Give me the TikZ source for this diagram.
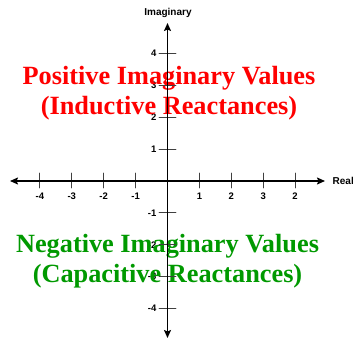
\documentclass[tikz,border=0pt]{standalone}
\usepackage{fontspec}
\setmainfont{Liberation Serif}
\setsansfont{Liberation Sans}
\usetikzlibrary{arrows.meta}
\definecolor{posred}{RGB}{255,0,0}
\definecolor{neggreen}{RGB}{0,153,0}

\begin{document}
\begin{tikzpicture}[x=1pt,y=1pt,line cap=round,line join=round,>={Stealth[length=8pt,width=7pt,inset=1.5pt]},
    every node/.style={inner sep=1pt},
    ticklbl/.style={font=\sffamily\bfseries\fontsize{9.5}{10}\selectfont},
    axislbl/.style={font=\sffamily\bfseries\fontsize{10}{11}\selectfont},
    bigtext/.style={font=\rmfamily\bfseries\fontsize{26.3}{30}\selectfont,anchor=base}]
  \useasboundingbox (-167.5,-158) rectangle (185.5,181);
  \def\gw{31.9}
  \def\tk{8}
  % tick labels
  \foreach \k in {1,...,4} {
    \node[ticklbl] (xn\k) at ({-\k*\gw},-15) {-\k};
    \node[ticklbl,anchor=east] (yp\k) at (-10,{\k*\gw}) {\k};
    \node[ticklbl,anchor=east] (yn\k) at (-10,{-\k*\gw}) {-\k};
  }
  \foreach \k/\t in {1/1,2/2,3/3,4/2} {
    \node[ticklbl] (xp\k) at ({\k*\gw},-15) {\t};
  }
  % region texts
  \node[bigtext,text=posred] (pos1) at (1.5,96) {Positive Imaginary Values};
  \node[bigtext,text=posred] (pos2) at (1.5,66) {(Inductive Reactances)};
  \node[bigtext,text=neggreen] (neg1) at (0,-72) {Negative Imaginary Values};
  \node[bigtext,text=neggreen] (neg2) at (0,-102) {(Capacitive Reactances)};
  % axes
  \coordinate (xl) at (-157.5,0);
  \coordinate (xr) at (157.5,0);
  \coordinate (yb) at (0,-157);
  \coordinate (yt) at (0,158);
  \foreach \k in {-4,...,-1,1,2,3,4} {
    \draw[line width=0.8pt,black!75] ({\k*\gw},-7) -- ({\k*\gw},\tk);
    \draw[line width=0.8pt,black!75] (-8.5,{\k*\gw}) -- (8.5,{\k*\gw});
  }
  \draw[<->,line width=1.6pt] (xl) -- (xr);
  \draw[<->,line width=1.6pt] (yb) -- (yt);
  \node[axislbl,anchor=west] (real) at (164,0) {Real};
  \node[axislbl] (imag) at (0.5,168) {Imaginary};
\end{tikzpicture}
\end{document}
